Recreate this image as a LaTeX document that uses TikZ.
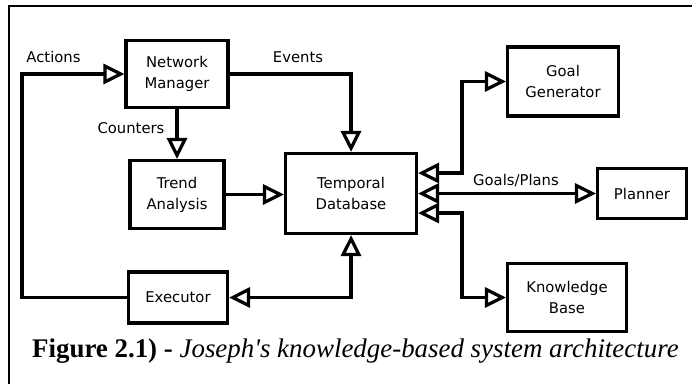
\documentclass[tikz,border=0pt]{standalone}
\usepackage{fontspec}
\setmainfont{Liberation Serif}
\newfontfamily\boxfont{DejaVu Sans}
\usetikzlibrary{arrows.meta}
\tikzset{
  blk/.style={draw, line width=3.2pt, inner sep=0pt, align=center, font=\boxfont\fontsize{14.8}{21}\selectfont},
  lbl/.style={inner sep=0pt, font=\boxfont\fontsize{14.8}{21}\selectfont},
  conn/.style={line width=3.2pt},
  tip/.style={-{Triangle[open, length=21pt, width=20pt, line width=3.2pt]}},
  tips/.style={{Triangle[open, length=21pt, width=20pt, line width=3.2pt]}-{Triangle[open, length=21pt, width=20pt, line width=3.2pt]}}
}
\begin{document}
\begin{tikzpicture}[x=1pt, y=-1pt]
\useasboundingbox (0,0) rectangle (692,383);
\fill[white] (0,0) rectangle (692,383);
\draw[line width=2pt] (9,384) -- (9,6) -- (693,6);

\node[blk, minimum width=102pt, minimum height=67pt] (nm) at (177,74) {Network\\Manager};
\node[blk, minimum width=94pt, minimum height=68pt] (ta) at (177,194.5) {Trend\\Analysis};
\node[blk, minimum width=131pt, minimum height=80pt] (tdb) at (351,193.5) {Temporal\\Database};
\node[blk, minimum width=99pt, minimum height=51pt] (exe) at (178,297.5) {Executor};
\node[blk, minimum width=111pt, minimum height=69pt] (gg) at (563,81.5) {Goal\\Generator};
\node[blk, minimum width=89pt, minimum height=50pt] (pl) at (642,193.5) {Planner};
\node[blk, minimum width=119pt, minimum height=68pt] (kb) at (567,297.5) {Knowledge\\Base};

\node[lbl] (lact) at (53.5,57) {Actions};
\node[lbl] (lev) at (298,57) {Events};
\node[lbl] (lcnt) at (131,128) {Counters};
\node[lbl] (lgp) at (516,181) {Goals/Plans};

\coordinate (cl) at (22,297.5);
\coordinate (cg) at (462,173);
\coordinate (ck) at (462,213);

\draw[conn, tip] (exe.west) -- (cl) |- (nm.west);
\draw[conn, tip] (nm.east) -| (tdb.north);
\draw[conn, tip] (nm.south) -- (ta.north);
\draw[conn, tip] (ta.east) -- (ta.east -| tdb.west);
\draw[conn, tips] (exe.east) -| (tdb.south);
\draw[conn, tips] (cg -| tdb.east) -- (cg) |- (gg.west);
\draw[conn, tips] (tdb.east) -- (pl.west);
\draw[conn, tips] (ck -| tdb.east) -- (ck) |- (kb.west);

\node[anchor=base west, inner sep=0pt, font=\fontsize{26.9}{30}\selectfont] (cap) at (32,357) {\textbf{Figure 2.1) -} \textit{Joseph\textquotesingle s knowledge-based system architecture}};
\end{tikzpicture}
\end{document}
